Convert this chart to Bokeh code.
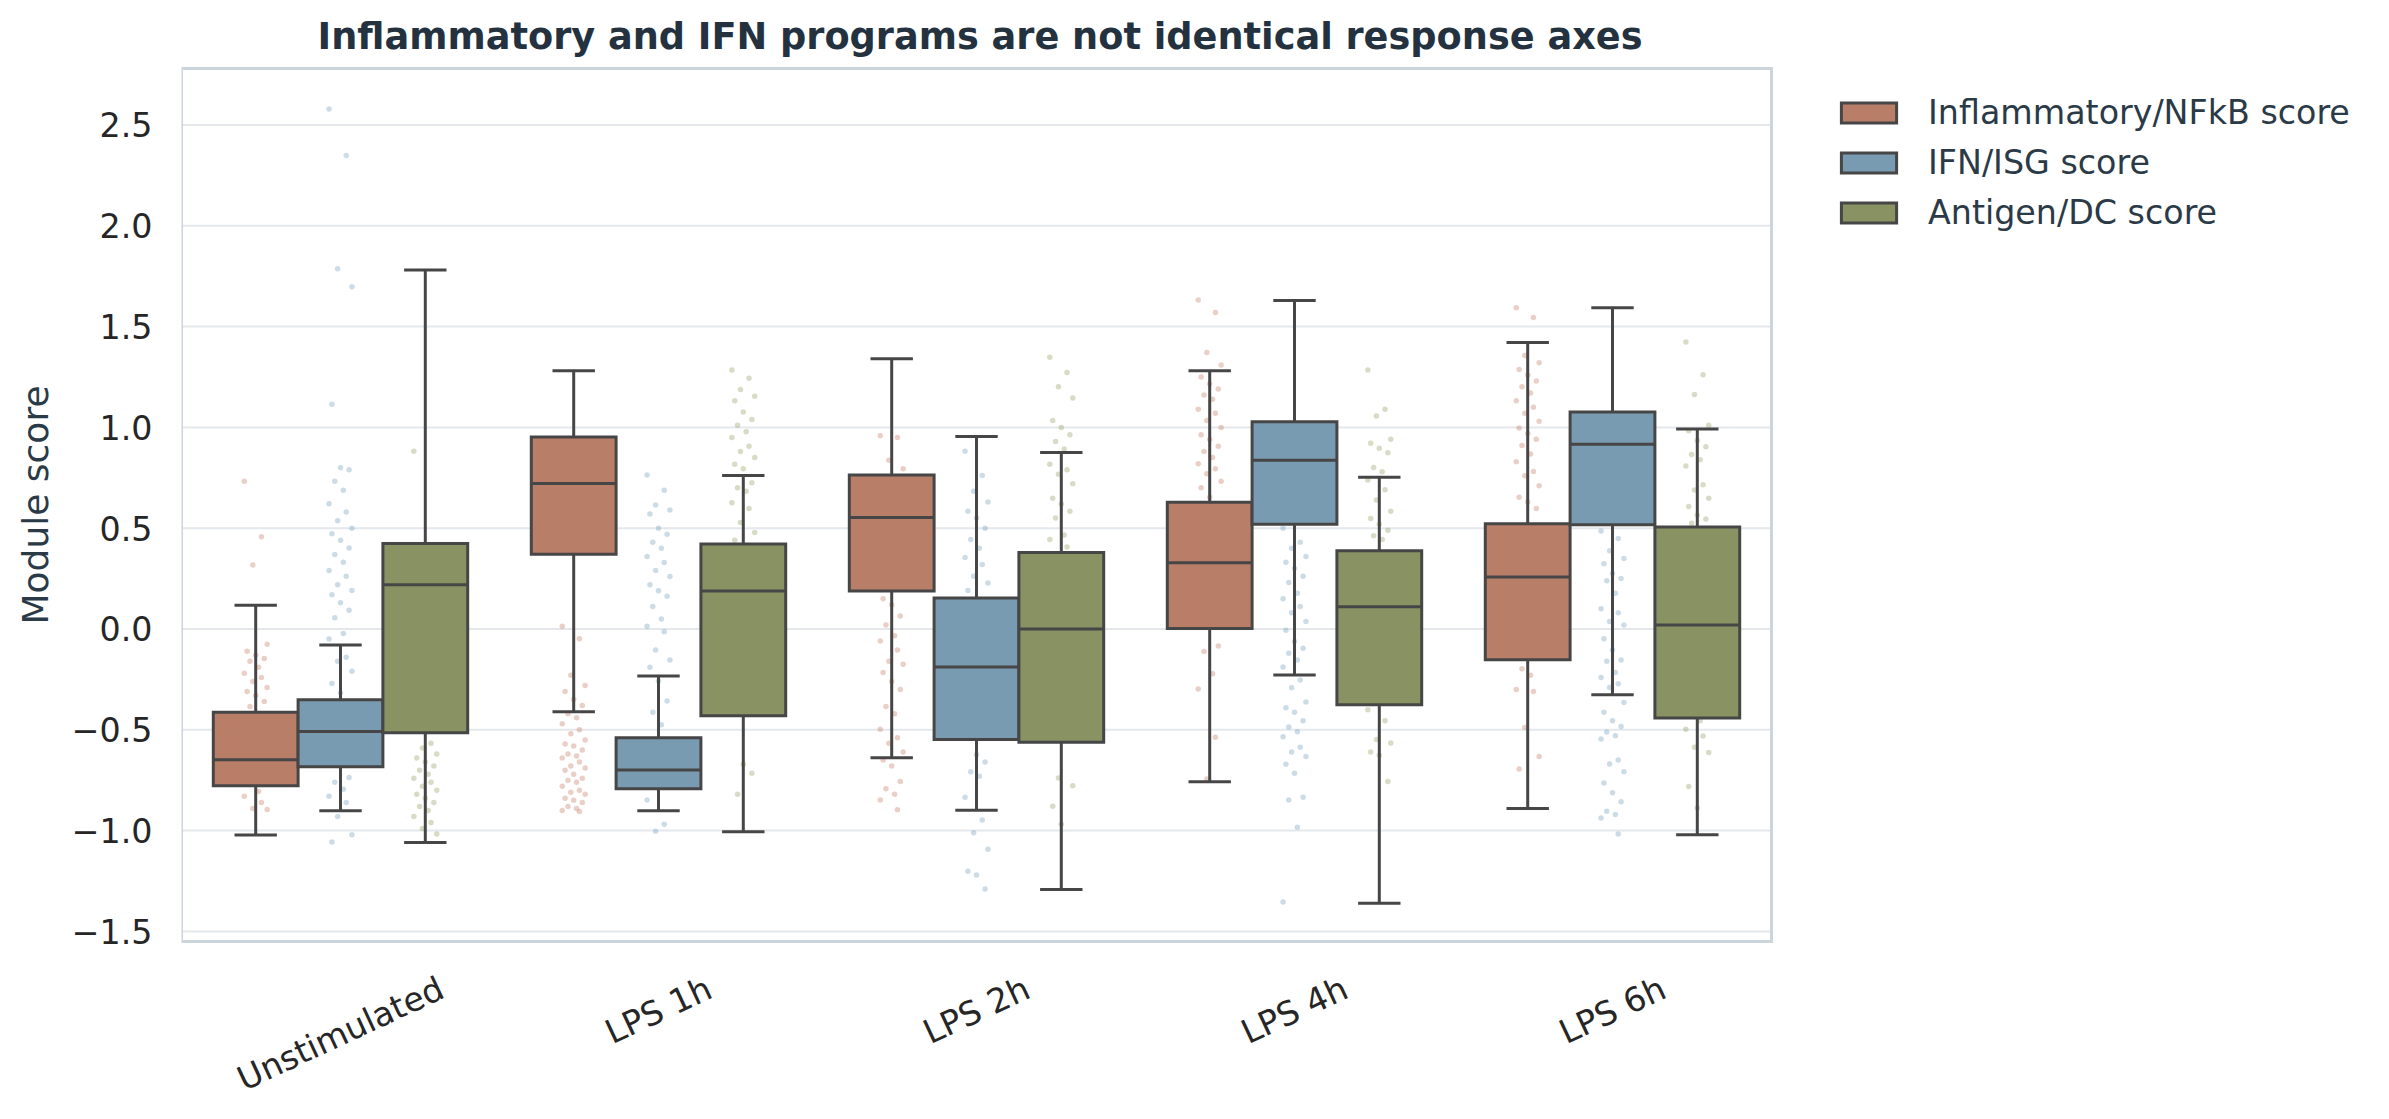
from bokeh.plotting import figure
from bokeh.models import Range1d, FixedTicker, Legend, LegendItem, CustomJSTickFormatter
from bokeh.embed import file_html
from bokeh.resources import INLINE
import math

# ---------------- data ----------------
categories = ["Unstimulated", "LPS 1h", "LPS 2h", "LPS 4h", "LPS 6h"]
series_names = ["Inflammatory/NFkB score", "IFN/ISG score", "Antigen/DC score"]

infl_lo = [-1.022, -0.410, -0.638, -0.758, -0.890]
infl_q1 = [-0.778, 0.371, 0.188, 0.003, -0.152]
infl_med = [-0.649, 0.722, 0.553, 0.329, 0.258]
infl_q3 = [-0.413, 0.952, 0.764, 0.629, 0.522]
infl_hi = [0.118, 1.281, 1.340, 1.281, 1.421]

ifn_lo = [-0.902, -0.902, -0.899, -0.228, -0.326]
ifn_q1 = [-0.683, -0.792, -0.548, 0.520, 0.517]
ifn_med = [-0.508, -0.699, -0.188, 0.837, 0.916]
ifn_q3 = [-0.351, -0.539, 0.154, 1.028, 1.076]
ifn_hi = [-0.079, -0.233, 0.955, 1.629, 1.593]

ag_lo = [-1.059, -1.006, -1.292, -1.360, -1.020]
ag_q1 = [-0.514, -0.430, -0.562, -0.376, -0.441]
ag_med = [0.219, 0.188, 0.000, 0.110, 0.020]
ag_q3 = [0.424, 0.421, 0.379, 0.388, 0.506]
ag_hi = [1.781, 0.761, 0.876, 0.753, 0.992]

# visible strip points (per category)
infl_pts = [
    [0.733, 0.458, 0.317, -0.076, -0.11, -0.13, -0.146, -0.16, -0.19, -0.22, -0.24, -0.26, -0.29, -0.31,
     -0.33, -0.36, -0.385, -0.806, -0.83, -0.86, -0.89, -0.895],
    [0.014, -0.048, -0.23, -0.28, -0.31, -0.35, -0.38, -0.42, -0.44, -0.47, -0.5, -0.52, -0.55, -0.57,
     -0.58, -0.6, -0.62, -0.63, -0.64, -0.66, -0.68, -0.69, -0.7, -0.72, -0.74, -0.75, -0.76, -0.78,
     -0.8, -0.81, -0.82, -0.84, -0.85, -0.86, -0.88, -0.89, -0.9, -0.905],
    [0.958, 0.95, 0.837, 0.795, 0.15, 0.12, 0.065, 0.02, -0.034, -0.06, -0.104, -0.16, -0.175, -0.216,
     -0.26, -0.30, -0.385, -0.42, -0.497, -0.54, -0.567, -0.61, -0.65, -0.68, -0.756, -0.792, -0.82,
     -0.848, -0.896],
    [1.632, 1.570, 1.371, 1.309, 1.25, 1.216, 1.19, 1.16, 1.14, 1.09, 1.07, 1.034, 1.0, 0.963, 0.94,
     0.907, 0.88, 0.851, 0.82, 0.795, 0.77, 0.733, 0.70, 0.654, -0.084, -0.112, -0.222, -0.298, -0.537,
     -0.744],
    [1.593, 1.545, 1.357, 1.32, 1.287, 1.26, 1.23, 1.202, 1.17, 1.132, 1.10, 1.07, 1.03, 0.997, 0.97,
     0.941, 0.91, 0.868, 0.829, 0.781, 0.76, 0.711, 0.654, 0.63, 0.598, -0.197, -0.23, -0.30, -0.31,
     -0.489, -0.632, -0.694],
]
ifn_pts = [
    [2.579, 2.348, 1.787, 1.697, 1.115, 0.80, 0.79, 0.733, 0.688, 0.621, 0.58, 0.537, 0.50, 0.472, 0.44,
     0.402, 0.37, 0.331, 0.29, 0.261, 0.22, 0.191, 0.17, 0.13, 0.093, 0.056, -0.022, -0.05, -0.14, -0.16,
     -0.21, -0.27, -0.317, -0.736, -0.76, -0.795, -0.829, -0.86, -0.93, -1.02, -1.056],
    [0.764, 0.688, 0.615, 0.59, 0.57, 0.5, 0.47, 0.43, 0.40, 0.36, 0.33, 0.29, 0.26, 0.22, 0.19, 0.163,
     0.112, 0.05, 0.014, -0.014, -0.104, -0.154, -0.19, -0.258, -0.357, -0.413, -0.475, -0.848, -0.969,
     -1.003],
    [0.882, 0.761, 0.683, 0.63, 0.584, 0.55, 0.5, 0.444, 0.40, 0.354, 0.32, 0.261, 0.228, 0.191, -0.624,
     -0.66, -0.708, -0.73, -0.834, -0.947, -1.011, -1.093, -1.202, -1.22, -1.289],
    [0.5, 0.43, 0.40, 0.36, 0.331, 0.30, 0.261, 0.23, 0.177, 0.15, 0.112, 0.08, 0.037, -0.006, -0.062,
     -0.096, -0.12, -0.154, -0.188, -0.253, -0.292, -0.362, -0.39, -0.413, -0.455, -0.486, -0.51, -0.534,
     -0.587, -0.61, -0.632, -0.671, -0.716, -0.834, -0.848, -0.983, -1.354],
    [0.486, 0.449, 0.388, 0.35, 0.323, 0.275, 0.25, 0.239, 0.177, 0.101, 0.08, 0.037, 0.02, -0.048, -0.104,
     -0.154, -0.16, -0.216, -0.24, -0.272, -0.29, -0.365, -0.413, -0.455, -0.483, -0.511, -0.53, -0.545,
     -0.65, -0.67, -0.708, -0.764, -0.812, -0.857, -0.904, -0.92, -0.938, -1.017],
]
ag_pts = [
    [0.882, -0.567, -0.59, -0.62, -0.64, -0.66, -0.68, -0.70, -0.72, -0.74, -0.76, -0.78, -0.80, -0.82,
     -0.84, -0.86, -0.88, -0.90, -0.93, -0.96, -0.99, -1.017],
    [1.284, 1.244, 1.188, 1.154, 1.132, 1.076, 1.039, 1.01, 0.978, 0.95, 0.907, 0.88, 0.851, 0.817, 0.795,
     0.725, 0.70, 0.683, 0.626, 0.598, 0.528, 0.478, 0.44, -0.671, -0.716, -0.82],
    [1.348, 1.272, 1.202, 1.146, 1.034, 1.0, 0.963, 0.93, 0.893, 0.817, 0.79, 0.767, 0.72, 0.649, 0.62,
     0.584, 0.55, 0.466, 0.444, 0.407, -0.739, -0.778, -0.879, -0.969],
    [1.284, 1.09, 1.056, 0.941, 0.921, 0.896, 0.874, 0.801, 0.78, 0.739, 0.691, 0.640, 0.584, 0.548, 0.52,
     0.49, 0.463, 0.444, -0.40, -0.455, -0.548, -0.565, -0.61, -0.626, -0.756],
    [1.424, 1.261, 1.163, 1.011, 0.983, 0.935, 0.904, 0.865, 0.84, 0.809, 0.716, 0.69, 0.649, 0.607, 0.565,
     0.545, 0.525, -0.455, -0.497, -0.531, -0.587, -0.612, -0.781, -0.888],
]

y_ticks = [-1.5, -1.0, -0.5, 0.0, 0.5, 1.0, 1.5, 2.0, 2.5]

# ---------------- layout / style ----------------
FONT = "DejaVu Sans"
box_colors = ["#B97E68", "#789BB1", "#889263"]
pt_colors = ["#C4755B", "#6C9BBA", "#8A9A58"]
EDGE = "#464646"
SPINE = "#CDD5DC"
W, H = 2389, 1119
# visible axes box (matplotlib-like) in canvas pixels
BOX_L, BOX_T, BOX_R, BOX_B = 181, 68, 1771, 943
X0, X1 = -0.5, 4.5
Y0, Y1 = -1.55, 2.78
PAD = 4  # extra px above/below so the spine lines are not clipped
px_x = (BOX_R - BOX_L) / (X1 - X0)
px_y = (BOX_B - BOX_T) / (Y1 - Y0)
TICK_FS = 33.3

# the bokeh frame extends to the right edge so the legend can live inside it
p = figure(width=W, height=H, output_backend="svg", toolbar_location=None,
           x_range=Range1d(X0, X0 + (W - BOX_L) / px_x),
           y_range=Range1d(Y0 - PAD / px_y, Y1 + PAD / px_y),
           min_border_left=BOX_L, min_border_right=0,
           min_border_top=BOX_T - PAD, min_border_bottom=H - BOX_B - PAD)
p.background_fill_color = "white"
p.border_fill_color = "white"
p.outline_line_color = None

p.title.text = "Inflammatory and IFN programs are not identical response axes"
p.title.align = "left"
p.title.offset = 136
p.title.text_font = FONT
p.title.text_font_size = "36.7px"
p.title.text_font_style = "bold"
p.title.text_color = "#24323F"
p.title.standoff = 14

p.xgrid.grid_line_color = None
p.ygrid.grid_line_color = None

# horizontal grid lines restricted to the axes box
p.segment(x0=[X0] * len(y_ticks), x1=[X1] * len(y_ticks), y0=y_ticks, y1=y_ticks,
          line_color="#E4E8EC", line_width=2)

# y axis
ya = p.yaxis[0]
ya.ticker = FixedTicker(ticks=y_ticks)
ya.formatter = CustomJSTickFormatter(code="return tick.toFixed(1).replace('-', '\u2212');")
ya.axis_line_color = None
ya.major_tick_line_color = None
ya.major_tick_out = 0
ya.major_tick_in = 0
ya.minor_tick_line_color = None
ya.minor_tick_out = 0
ya.major_label_text_font = FONT
ya.major_label_text_font_size = f"{TICK_FS}px"
ya.major_label_text_color = "#262626"
ya.major_label_standoff = 29
ya.axis_label = "Module score"
ya.axis_label_text_font = FONT
ya.axis_label_text_font_size = "36px"
ya.axis_label_text_font_style = "normal"
ya.axis_label_text_color = "#2B3A47"
ya.axis_label_standoff = 13

# x axis: rotated labels, matplotlib-like centring (bokeh anchors the label's right end at the tick,
# so the invisible tick is shifted by half the rotated label's horizontal extent)
ROT = 25
em = {"U": .732, "n": .634, "s": .521, "t": .392, "i": .278, "m": .974, "u": .634, "l": .278,
      "a": .613, "e": .615, "d": .635, "L": .557, "P": .603, "S": .635, " ": .318, "1": .636,
      "2": .636, "4": .636, "6": .636, "h": .634}
tick_pos, overrides = [], {}
for i, name in enumerate(categories):
    wpx = sum(em.get(ch, 0.6) for ch in name) * TICK_FS
    pos = round(i + (wpx / 2) * math.cos(math.radians(ROT)) / px_x, 4)
    tick_pos.append(pos)
    overrides[pos] = name
xa = p.xaxis[0]
xa.ticker = FixedTicker(ticks=tick_pos)
xa.major_label_overrides = overrides
xa.major_label_orientation = math.radians(ROT)
xa.axis_line_color = None
xa.major_tick_line_color = None
xa.major_tick_out = 0
xa.major_tick_in = 0
xa.minor_tick_line_color = None
xa.minor_tick_out = 0
xa.major_label_text_font = FONT
xa.major_label_text_font_size = f"{TICK_FS}px"
xa.major_label_text_color = "#262626"
xa.major_label_standoff = 41

stats = [
    (infl_lo, infl_q1, infl_med, infl_q3, infl_hi, infl_pts),
    (ifn_lo, ifn_q1, ifn_med, ifn_q3, ifn_hi, ifn_pts),
    (ag_lo, ag_q1, ag_med, ag_q3, ag_hi, ag_pts),
]

n_s = len(series_names)
dodge = 0.8 / n_s
half = dodge / 2
jit_pattern = [-4, 2, -1, 4, -3, 0, 3, -2, 1]

# strip points first (underneath boxes)
for j, (_, _, _, _, _, pts) in enumerate(stats):
    xs, ys = [], []
    for i, vals in enumerate(pts):
        c = i + (j - (n_s - 1) / 2) * dodge
        for k, v in enumerate(vals):
            xs.append(c + jit_pattern[k % len(jit_pattern)] * 0.009)
            ys.append(v)
    p.scatter(xs, ys, size=5.5, fill_color=pt_colors[j], fill_alpha=0.35, line_color=None)

legend_items = []
for j, (lo, q1, med, q3, hi, _) in enumerate(stats):
    cx = [i + (j - (n_s - 1) / 2) * dodge for i in range(len(categories))]
    left = [c - half for c in cx]
    right = [c + half for c in cx]
    p.segment(x0=cx, x1=cx, y0=q3, y1=hi, line_color=EDGE, line_width=3)
    p.segment(x0=cx, x1=cx, y0=q1, y1=lo, line_color=EDGE, line_width=3)
    cap_l = [c - half / 2 for c in cx]
    cap_r = [c + half / 2 for c in cx]
    p.segment(x0=cap_l, x1=cap_r, y0=hi, y1=hi, line_color=EDGE, line_width=3)
    p.segment(x0=cap_l, x1=cap_r, y0=lo, y1=lo, line_color=EDGE, line_width=3)
    r = p.quad(left=left, right=right, bottom=q1, top=q3, fill_color=box_colors[j],
               line_color=EDGE, line_width=3, line_join="miter")
    p.segment(x0=left, x1=right, y0=med, y1=med, line_color=EDGE, line_width=3)
    legend_items.append(LegendItem(label=series_names[j], renderers=[r]))

# axes box (spines)
p.quad(left=[X0], right=[X1], bottom=[Y0], top=[Y1], fill_color=None,
       line_color=SPINE, line_width=3, line_join="miter")

legend = Legend(items=legend_items, location=(1653, 713), orientation="vertical",
                glyph_width=69, glyph_height=25, label_height=25, spacing=11,
                label_standoff=25, padding=0, margin=0,
                label_text_font=FONT, label_text_font_size="33.3px", label_text_color="#2B3A47",
                border_line_color=None, background_fill_alpha=0)
p.add_layout(legend, "center")

open("out.html", "w").write(file_html(p, INLINE))
